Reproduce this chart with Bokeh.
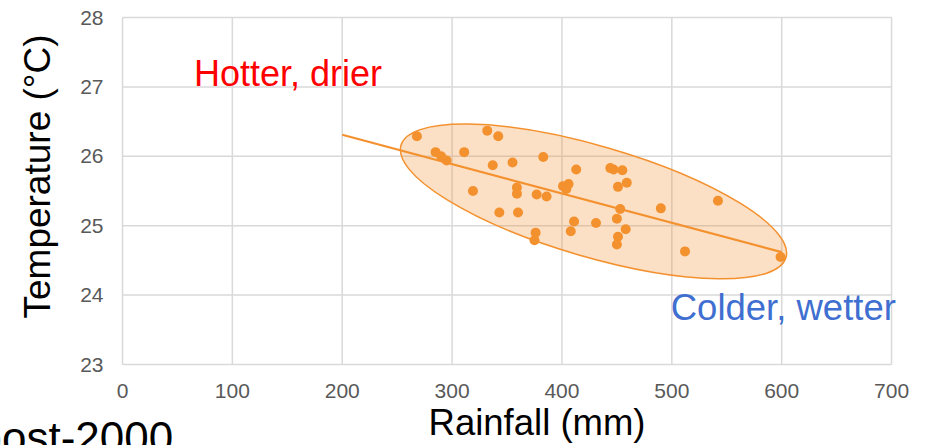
import math
from bokeh.plotting import figure
from bokeh.models import Label, Range1d, FixedTicker, LinearAxis
from bokeh.embed import file_html
from bokeh.resources import INLINE

# ---- data ----
rainfall = [268, 332, 342, 285, 290, 295, 311, 337, 355, 383, 413, 444, 447, 455,
            319, 359, 359, 377, 386, 401, 406, 404, 451, 459, 343, 360, 453, 490,
            542, 411, 431, 450, 408, 458, 376, 375, 451, 450, 512, 599]
temperature = [26.29, 26.37, 26.29, 26.06, 26.00, 25.94, 26.06, 25.87, 25.91, 25.99,
               25.81, 25.83, 25.81, 25.80, 25.50, 25.55, 25.46, 25.45, 25.42, 25.57,
               25.60, 25.53, 25.56, 25.62, 25.19, 25.19, 25.24, 25.25, 25.36, 25.06,
               25.04, 25.10, 24.92, 24.95, 24.90, 24.79, 24.84, 24.73, 24.63, 24.55]
trend_x = [200, 600]
trend_y = [26.31, 24.62]
cluster_x = [428.7]
cluster_y = [25.35]
x_ticks = [0, 100, 200, 300, 400, 500, 600, 700]
y_ticks = [23, 24, 25, 26, 27, 28]

FONT = "Liberation Sans"
ORANGE = "#F4912F"
GRID = "#D9D9D9"

x_lo, x_hi = x_ticks[0], x_ticks[-1]
y_lo, y_hi = y_ticks[0], y_ticks[-1]

# the frame spans the whole canvas; the gridded area sits inside it
p = figure(width=925, height=445, x_range=Range1d(-111.05, 730.9),
           y_range=Range1d(21.833, 28.245),
           output_backend="svg", toolbar_location=None,
           min_border_left=0, min_border_right=0, min_border_top=0, min_border_bottom=0,
           x_axis_type=None, y_axis_type=None)
p.background_fill_color = "white"
p.border_fill_color = "white"
p.outline_line_color = None
p.grid.visible = False

# grid lines over the plotted area, from the tick lists
p.segment(x0=x_ticks, y0=[y_lo] * len(x_ticks), x1=x_ticks, y1=[y_hi] * len(x_ticks),
          line_color=GRID, line_width=1.5)
p.segment(x0=[x_lo] * len(y_ticks), y0=y_ticks, x1=[x_hi] * len(y_ticks), y1=y_ticks,
          line_color=GRID, line_width=1.5)

xaxis = LinearAxis(ticker=FixedTicker(ticks=x_ticks), fixed_location=y_lo)
yaxis = LinearAxis(ticker=FixedTicker(ticks=y_ticks), fixed_location=x_lo)
p.add_layout(xaxis, "below")
p.add_layout(yaxis, "left")
for ax in (xaxis, yaxis):
    ax.axis_line_color = None
    ax.major_tick_line_color = None
    ax.minor_tick_line_color = None
    ax.major_tick_out = 0
    ax.major_tick_in = 0
    ax.minor_tick_out = 0
    ax.major_label_text_font = FONT
    ax.major_label_text_font_size = "21px"
    ax.major_label_text_color = "#595959"
    ax.major_label_standoff = 19

# cluster ellipse
p.ellipse(x=cluster_x, y=cluster_y, width=401, height=111, width_units="screen",
          height_units="screen", angle=-math.radians(16.25),
          fill_color=ORANGE, fill_alpha=0.28, line_color=ORANGE, line_width=1.5)
# trend line
p.line(trend_x, trend_y, line_color=ORANGE, line_width=2.2)
# points
p.scatter(rainfall, temperature, size=10, fill_color=ORANGE, line_color=None)

# texts
p.add_layout(Label(x=65, y=27.187, text="Hotter, drier", text_color="#FF0000",
                   text_font=FONT, text_font_size="36px", text_baseline="alphabetic"))
p.add_layout(Label(x=499, y=23.817, text="Colder, wetter", text_color="#3F6FD0",
                   text_font=FONT, text_font_size="36.5px", text_baseline="alphabetic"))
p.add_layout(Label(x=377.3, y=22.164, text="Rainfall (mm)", text_color="black",
                   text_font=FONT, text_font_size="36.5px", text_align="center",
                   text_baseline="alphabetic"))
p.add_layout(Label(x=-77.6, y=25.71, text="Temperature (°C)", text_color="black",
                   text_font=FONT, text_font_size="37px", text_align="center",
                   text_baseline="alphabetic", angle=math.pi / 2))
p.add_layout(Label(x=-132, y=21.955, text="post-2000", text_color="black",
                   text_font=FONT, text_font_size="44px", text_baseline="alphabetic"))

open("out.html", "w").write(file_html(p, INLINE))
